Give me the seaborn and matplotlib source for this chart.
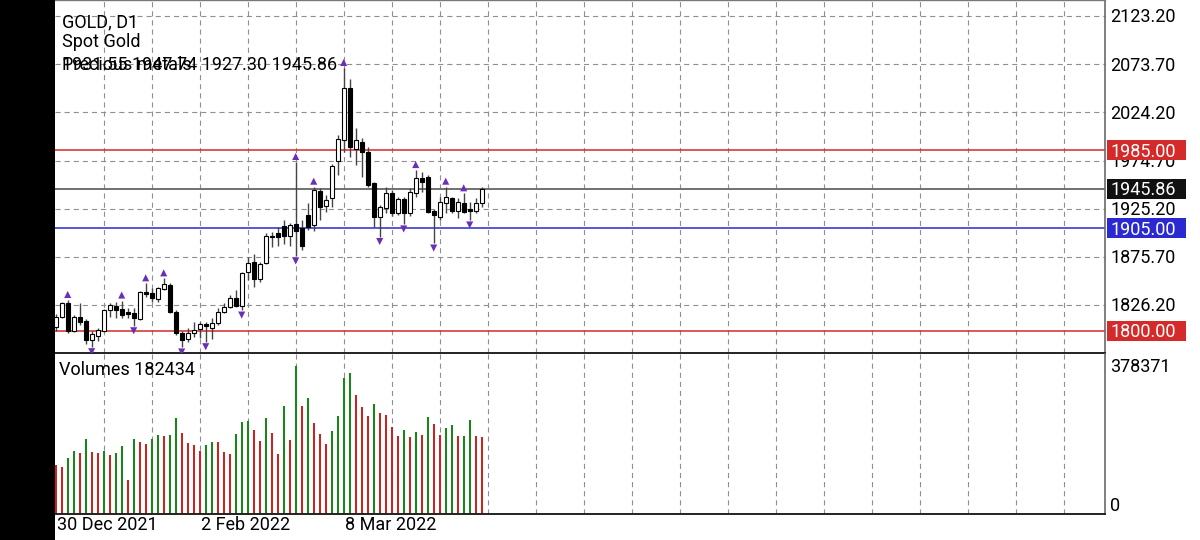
import numpy as np
import pandas as pd
import matplotlib
matplotlib.use("Agg")
import matplotlib.pyplot as plt
import seaborn as sns
from matplotlib.patches import Rectangle
from matplotlib.transforms import ScaledTranslation

# ---------------- data ----------------
opens = [1803.9, 1814.2, 1828.3, 1799.5, 1814.2, 1809.8, 1790.2, 1794.4, 1799.5, 1821.1,
         1825.2, 1821.8, 1818.7, 1817.7, 1811.8, 1839.9, 1838.2, 1832.4, 1842.4, 1846.8,
         1819.3, 1797.8, 1791.0, 1797.1, 1801.2, 1806.4, 1802.9, 1807.4, 1819.3, 1824.5,
         1833.1, 1825.5, 1860.4, 1870.7, 1852.6, 1869.1, 1897.4, 1899.9, 1907.4, 1897.1,
         1909.1, 1905.0, 1918.7, 1908.4, 1943.7, 1928.3, 1935.9, 1973.9, 1995.8, 2048.9,
         1986.2, 1994.0, 1983.7, 1951.3, 1917.0, 1925.6, 1941.6, 1921.1, 1935.5, 1920.5,
         1941.6, 1956.4, 1958.1, 1923.1, 1917.0, 1931.3, 1935.9, 1923.1, 1931.3, 1924.6,
         1923.1, 1931.55]
highs = [1817.0, 1829.8, 1831.4, 1815.9, 1828.6, 1811.8, 1799.5, 1802.9, 1822.6, 1827.9,
         1829.6, 1830.8, 1822.8, 1822.8, 1840.6, 1848.5, 1843.4, 1845.0, 1853.6, 1848.8,
         1821.1, 1799.5, 1802.3, 1809.1, 1809.1, 1809.1, 1812.5, 1822.8, 1827.9, 1836.5,
         1841.6, 1860.1, 1875.9, 1878.6, 1870.7, 1899.9, 1901.5, 1906.1, 1913.6, 1910.2,
         1973.2, 1913.6, 1930.7, 1947.8, 1946.1, 1939.3, 1971.1, 2000.9, 2069.8, 2058.1,
         2007.8, 1997.5, 1988.6, 1952.6, 1929.0, 1947.8, 1944.4, 1937.5, 1937.5, 1946.1,
         1964.9, 1963.2, 1959.8, 1924.6, 1937.5, 1947.8, 1937.5, 1935.9, 1941.0, 1932.4,
         1935.9, 1947.74]
lows = [1800.0, 1812.9, 1797.4, 1798.5, 1805.7, 1785.8, 1783.4, 1789.2, 1798.5, 1814.2,
        1813.2, 1813.2, 1812.6, 1804.9, 1810.8, 1834.7, 1829.6, 1829.6, 1841.6, 1817.5,
        1795.4, 1783.1, 1788.2, 1793.6, 1792.0, 1788.5, 1791.0, 1805.7, 1817.7, 1823.5,
        1824.0, 1821.0, 1851.9, 1845.0, 1850.2, 1868.3, 1886.1, 1886.9, 1888.9, 1886.9,
        1876.6, 1882.7, 1903.3, 1902.3, 1913.6, 1922.1, 1927.2, 1959.8, 1983.7, 1978.6,
        1970.1, 1958.1, 1947.5, 1906.7, 1896.6, 1920.5, 1917.7, 1918.7, 1909.5, 1917.7,
        1937.5, 1942.6, 1920.5, 1889.9, 1913.6, 1920.5, 1920.5, 1915.3, 1920.5, 1913.6,
        1920.5, 1927.30]
closes = [1814.2, 1827.9, 1799.2, 1814.2, 1809.1, 1790.2, 1796.1, 1800.5, 1821.1, 1826.2,
          1821.1, 1815.9, 1816.7, 1812.6, 1839.3, 1837.2, 1833.1, 1843.4, 1847.5, 1819.3,
          1797.1, 1790.2, 1797.8, 1800.5, 1806.4, 1804.6, 1808.0, 1819.3, 1824.5, 1833.1,
          1825.2, 1858.8, 1869.7, 1852.6, 1868.3, 1897.4, 1895.8, 1895.8, 1897.1, 1908.4,
          1902.6, 1886.9, 1906.7, 1944.4, 1927.2, 1934.1, 1968.7, 1996.5, 2048.9, 1988.9,
          1995.8, 1983.7, 1949.5, 1917.0, 1926.6, 1941.6, 1920.5, 1934.9, 1920.5, 1942.6,
          1956.4, 1952.9, 1921.5, 1918.7, 1932.4, 1936.9, 1923.1, 1932.4, 1922.1, 1923.1,
          1930.7, 1945.86]
volumes = [115400, 111300, 131200, 148500, 143100, 177000, 145500, 143100, 149200, 139100,
           144500, 160400, 79800, 176300, 169100, 165100, 176800, 185700, 184900, 186400,
           226000, 190500, 166800, 162700, 148500, 162700, 169900, 169100, 145500, 142100,
           188100, 216500, 218900, 197600, 172200, 227200, 191900, 140700, 255100, 174600,
           349900, 255900, 273400, 215600, 188800, 165100, 195900, 231500, 320800, 332600,
           281200, 253500, 231500, 259200, 237800, 233100, 206100, 184800, 197600, 181700,
           194300, 186400, 229100, 212500, 186400, 203700, 209400, 184100, 185000, 221300,
           184100, 182434]
prev_volume = 130000
fractal_up = [2, 11, 15, 18, 40, 43, 48, 60, 65, 68]
fractal_down = [6, 13, 21, 25, 31, 40, 54, 58, 63, 69]
price_ticks = [2123.20, 2073.70, 2024.20, 1974.70, 1925.20, 1875.70, 1826.20]
date_tick_idx = [0, 24, 48]
date_tick_labels = ["30 Dec 2021", "2 Feb 2022", "8 Mar 2022"]
red_levels = [1985.00, 1800.00]
blue_levels = [1905.00]
last_price = 1945.86
volume_scale_max = 378371
title_lines = ["GOLD, D1", "Spot Gold"]
category_text = "Precious metals"
ohlc_text = "1931.55 1947.74 1927.30 1945.86"
volume_title = "Volumes 182434"

# ---------------- style ----------------
sns.set_theme(style="white")
plt.rcParams['font.family'] = ['Roboto', 'DejaVu Sans']
FS = 13

W, H = 1200, 540
fig = plt.figure(figsize=(12, 5.4), dpi=100)
fig.patch.set_facecolor('white')


def fx(px):
    return px / W


def fy(py):
    return 1 - py / H


def py_of_price(p):
    return 16 + (2123.2 - p) * 0.9731


L, R = 55, 1105
ax = fig.add_axes([fx(L), fy(353), fx(R) - fx(L), fy(0) - fy(353)])
axv = fig.add_axes([fx(L), fy(513.7), fx(R) - fx(L), fy(354) - fy(513.7)])

n = len(closes)
idx = np.arange(n)
o = np.array(opens); c = np.array(closes); h = np.array(highs); lo = np.array(lows)

grid_kw = dict(color='#8f8f8f', lw=0.8, linestyle=(0, (4.6, 3.6)), zorder=1)
for k in range(8, 176, 8):
    ax.axvline(k, **grid_kw)
    axv.axvline(k, **grid_kw)
for p in price_ticks:
    ax.axhline(p, **grid_kw)

# level lines
for p in red_levels:
    ax.axhline(p, color='#d42a2a', lw=1.1, zorder=1.5)
for p in blue_levels:
    ax.axhline(p, color='#2a2ac8', lw=1.1, zorder=1.5)
ax.axhline(last_price, color='#707070', lw=1.4, zorder=1.5)

# candles
ax.vlines(idx, lo, h, color='#444444', lw=1.0, zorder=2)
bull = c >= o
body_bottom = np.minimum(o, c)
body_h = np.maximum(np.abs(c - o), 0.8)
ax.bar(idx, body_h, bottom=body_bottom, width=0.62,
       color=np.where(bull, 'white', 'black'), edgecolor='black', linewidth=0.8, zorder=3)

# fractal arrows
up_tr = ax.transData + ScaledTranslation(0, 0.055, fig.dpi_scale_trans)
dn_tr = ax.transData + ScaledTranslation(0, -0.05, fig.dpi_scale_trans)
sns.scatterplot(x=fractal_up, y=h[fractal_up], marker='^', s=26, color='#6a2fb8',
                edgecolor='none', transform=up_tr, ax=ax, zorder=4, legend=False)
sns.scatterplot(x=fractal_down, y=lo[fractal_down], marker='v', s=26, color='#6a2fb8',
                edgecolor='none', transform=dn_tr, ax=ax, zorder=4, legend=False)

# volumes
vol = np.array(volumes)
prev = np.concatenate([[prev_volume], vol[:-1]])
df = pd.DataFrame({'idx': idx, 'vol': vol, 'dir': np.where(vol > prev, 'up', 'down')})
sns.barplot(data=df, x='idx', y='vol', hue='dir', palette={'up': '#148a14', 'down': '#d41f1f'},
            native_scale=True, width=0.4, dodge=False, legend=False, ax=axv,
            saturation=1, errorbar=None, linewidth=0, edgecolor='none', zorder=2)

x0, x1 = -0.117, 174.88
ax.set_xlim(x0, x1); axv.set_xlim(x0, x1)
ax.set_ylim(1776.9, 2139.64)
axv.set_ylim(0, volume_scale_max)

for a in (ax, axv):
    a.set_xticks([]); a.set_yticks([])
    a.set_xlabel(''); a.set_ylabel('')
    a.set_facecolor('white')
    a.spines['left'].set_visible(False)
    a.spines['right'].set_color('#6a6a6a'); a.spines['right'].set_linewidth(1.2)
    a.spines['bottom'].set_color('#222222'); a.spines['bottom'].set_linewidth(1.4)
ax.spines['top'].set_color('#7a7a7a'); ax.spines['top'].set_linewidth(1.0)
axv.spines['top'].set_visible(False)

# left black band
fig.add_artist(Rectangle((0, 0), fx(L), 1, transform=fig.transFigure,
                         facecolor='black', edgecolor='none', zorder=10))

BASE = 6.4  # baseline offset from visual centre of digits/caps


def ftext(px, pyc, s, color='black', z=3):
    fig.text(fx(px), fy(pyc + BASE), s, va='baseline', ha='left', fontsize=FS,
             color=color, zorder=z)


# header texts
ftext(62, 21, title_lines[0])
ftext(62, 41, title_lines[1])
ftext(62, 64, category_text)
ftext(62, 64, ohlc_text)
ftext(59, 369, volume_title)

# right price scale
for p in price_ticks:
    ftext(1110, py_of_price(p), f"{p:.2f}")

# price boxes
boxes = [(red_levels[0], '#d42a2a'), (last_price, '#111111'),
         (blue_levels[0], '#2a2ad0'), (red_levels[1], '#d42a2a')]
for p, col in boxes:
    yc = py_of_price(p)
    fig.add_artist(Rectangle((fx(1107), fy(yc + 10)), fx(1186) - fx(1107), 20 / H,
                             transform=fig.transFigure, facecolor=col, edgecolor='none', zorder=4))
    ftext(1111, yc, f"{p:.2f}", color='white', z=5)

# volume scale
ftext(1110, 366, f"{volume_scale_max}")
ftext(1110, 505, "0")

# date labels
for i, lab in zip(date_tick_idx, date_tick_labels):
    xp = 55.7 + 6 * i + 1
    ftext(xp, 524, lab)

fig.savefig("out.png", dpi=100, facecolor='white')
